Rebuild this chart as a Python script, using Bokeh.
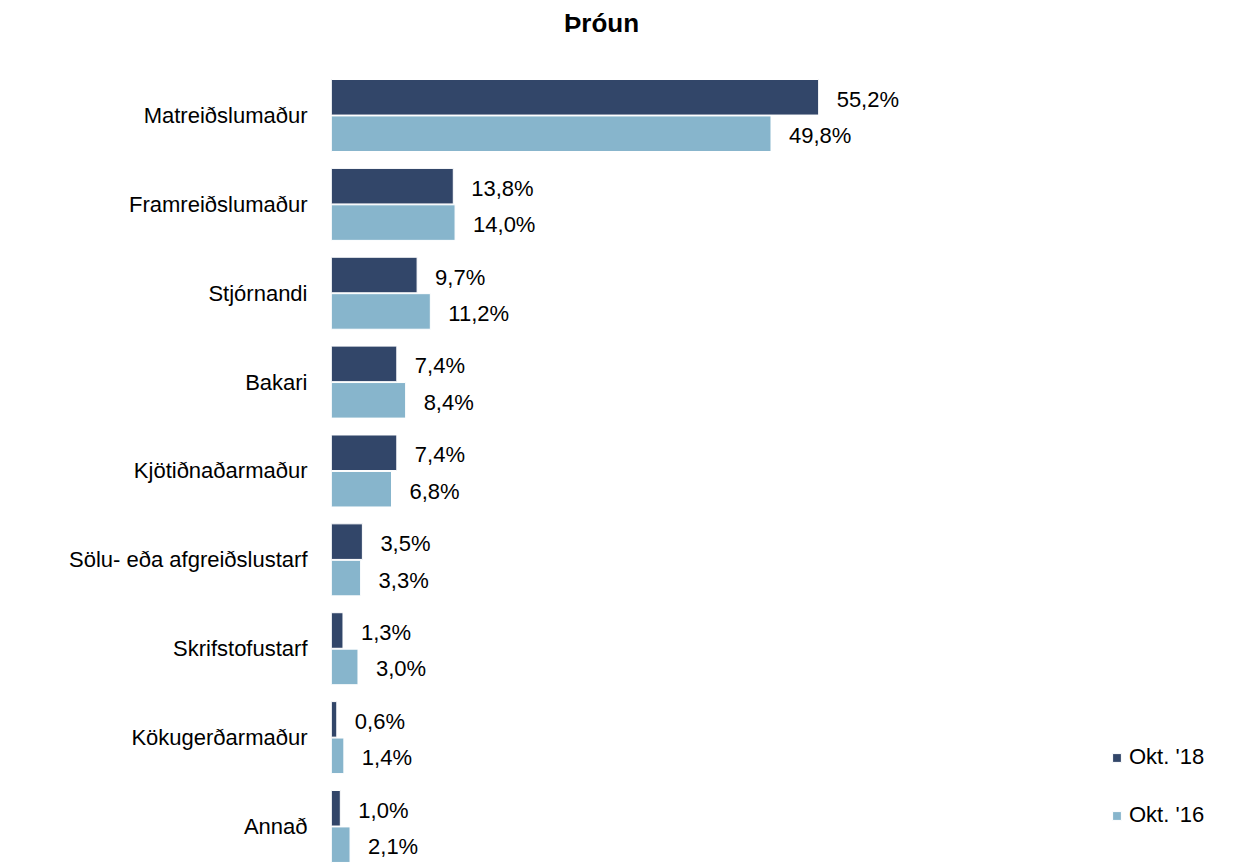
from bokeh.plotting import figure
from bokeh.models import ColumnDataSource, Range1d, FixedTicker, Legend, LegendItem, Label
from bokeh.core.properties import value
from bokeh.embed import file_html
from bokeh.resources import INLINE

categories = ["Matreiðslumaður", "Framreiðslumaður", "Stjórnandi", "Bakari",
              "Kjötiðnaðarmaður", "Sölu- eða afgreiðslustarf", "Skrifstofustarf",
              "Kökugerðarmaður", "Annað"]
okt18 = [55.2, 13.8, 9.7, 7.4, 7.4, 3.5, 1.3, 0.6, 1.0]
okt16 = [49.8, 14.0, 11.2, 8.4, 6.8, 3.3, 3.0, 1.4, 2.1]
series_names = ["Okt. '18", "Okt. '16"]
title_text = "Þróun"

DARK = "#324669"
LIGHT = "#87B5CC"
FONT = "Liberation Sans"
FS = "22px"

n = len(categories)
pos = [n - 1 - i for i in range(n)]
off = 0.205
bh = 0.40
y_end = n - 1 + 1.294
y_start = -0.428

def fmt(v):
    return f"{v:.1f}".replace(".", ",") + "%"

src18 = ColumnDataSource(dict(y=[p + off for p in pos], x=okt18, lab=[fmt(v) for v in okt18]))
src16 = ColumnDataSource(dict(y=[p - off for p in pos], x=okt16, lab=[fmt(v) for v in okt16]))

p = figure(width=1240, height=864, output_backend="svg", toolbar_location=None,
           x_range=Range1d(0, 103.0), y_range=Range1d(y_start, y_end),
           x_axis_location=None, min_border_left=331, min_border_right=0,
           min_border_top=0, min_border_bottom=0)
p.outline_line_color = None
p.grid.visible = False
p.background_fill_color = "white"

r18 = p.hbar(y="y", right="x", left=0, height=bh, source=src18, fill_color=DARK,
             line_color="white", line_width=1)
r16 = p.hbar(y="y", right="x", left=0, height=bh, source=src16, fill_color=LIGHT,
             line_color="white", line_width=1)

for s in (src18, src16):
    p.text(x="x", y="y", text="lab", source=s, x_offset=18, y_offset=2,
           text_align="left", text_baseline="middle", text_font=value(FONT),
           text_font_size=FS, text_color="#000000")

# chart title, placed in the empty top band of the frame
p.add_layout(Label(x=30.6, y=y_end - 0.248, text=title_text, text_align="center",
                   text_baseline="middle", text_font=FONT, text_font_size="26px",
                   text_font_style="bold", text_color="#000000"))

ax = p.yaxis[0]
ax.ticker = FixedTicker(ticks=pos)
ax.major_label_overrides = {p_: c for p_, c in zip(pos, categories)}
ax.axis_line_color = None
ax.major_tick_line_color = None
ax.minor_tick_line_color = None
ax.major_label_standoff = 18
ax.major_label_text_font = FONT
ax.major_label_text_font_size = FS
ax.major_label_text_color = "#000000"

legend = Legend(items=[LegendItem(label=series_names[0], renderers=[r18]),
                       LegendItem(label=series_names[1], renderers=[r16])],
                location=(780, 36), orientation="vertical")
legend.border_line_color = None
legend.background_fill_alpha = 0
legend.padding = 0
legend.margin = 0
legend.glyph_width = 11
legend.glyph_height = 11
legend.label_height = 20
legend.spacing = 32
legend.label_standoff = 7
legend.label_text_font = FONT
legend.label_text_font_size = FS
legend.label_text_color = "#000000"
p.add_layout(legend, "center")

open("out.html", "w").write(file_html(p, INLINE))
